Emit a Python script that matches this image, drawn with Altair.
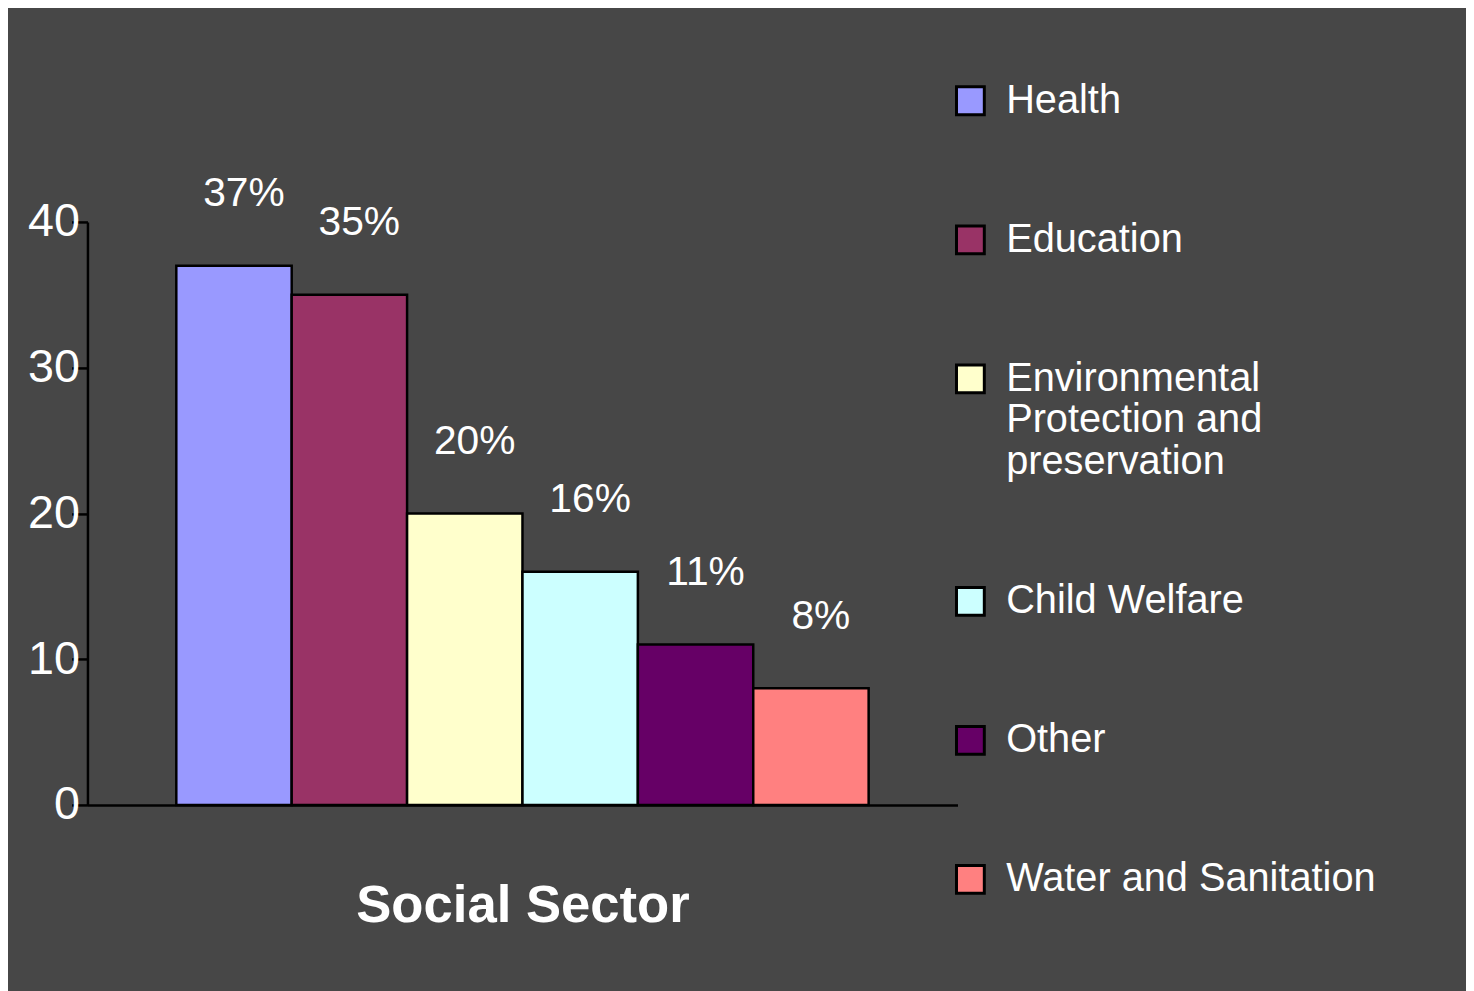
import altair as alt
import pandas as pd

categories = ["Health", "Education", "Environmental|Protection and|preservation",
              "Child Welfare", "Other", "Water and Sanitation"]
values = [37, 35, 20, 16, 11, 8]
colors = ["#9999FF", "#993366", "#FFFFCC", "#CCFFFF", "#660066", "#FF8080"]
y_ticks = [0, 10, 20, 30, 40]

df = pd.DataFrame({"sector": categories, "value": values})
FONT = "Liberation Sans, Arial, sans-serif"

x_enc = alt.X("sector:N", sort=categories,
              scale=alt.Scale(paddingInner=0, paddingOuter=0.77),
              axis=alt.Axis(labels=False, ticks=False, domainColor="black", domainWidth=2.5,
                            title="Social Sector", titleFontSize=53, titleFontWeight="bold",
                            titleColor="white", titleFont=FONT, titlePadding=75))

bars = alt.Chart(df).mark_bar(stroke="black", strokeWidth=2.5).encode(
    x=x_enc,
    y=alt.Y("value:Q", scale=alt.Scale(domain=[0, 40], nice=False),
            axis=alt.Axis(values=y_ticks, grid=False, domainColor="black", domainWidth=2.5,
                          tickColor="black", tickWidth=2.5, tickSize=16, labelPadding=-8,
                          labelFontSize=47, labelColor="white", labelFont=FONT,
                          title=None, minExtent=75, maxExtent=75)),
    color=alt.Color("sector:N", sort=categories,
                    scale=alt.Scale(domain=categories, range=colors),
                    legend=alt.Legend(title=None, orient="none", legendX=869, legendY=-142,
                                      direction="vertical", symbolType="square",
                                      symbolSize=784, symbolStrokeColor="black",
                                      symbolStrokeWidth=3, labelFontSize=40,
                                      labelColor="white", labelFont=FONT, labelLimit=600,
                                      labelOffset=16, rowPadding=100,
                                      labelExpr="split(datum.label, '|')")),
)

labels = alt.Chart(df).transform_calculate(
    txt="datum.value + '%'"
).mark_text(dx=10, dy=-72, baseline="middle", align="center", fontSize=41,
            color="white", font=FONT).encode(
    x=alt.X("sector:N", sort=categories),
    y=alt.Y("value:Q"),
    text="txt:N",
)

chart = alt.layer(bars, labels).properties(
    width=876, height=587, background="#474747",
    padding={"left": 5, "top": 70, "right": 90, "bottom": 66},
).configure_view(stroke=None)

chart.save("out.html", embed_options={"renderer": "svg", "actions": False})
